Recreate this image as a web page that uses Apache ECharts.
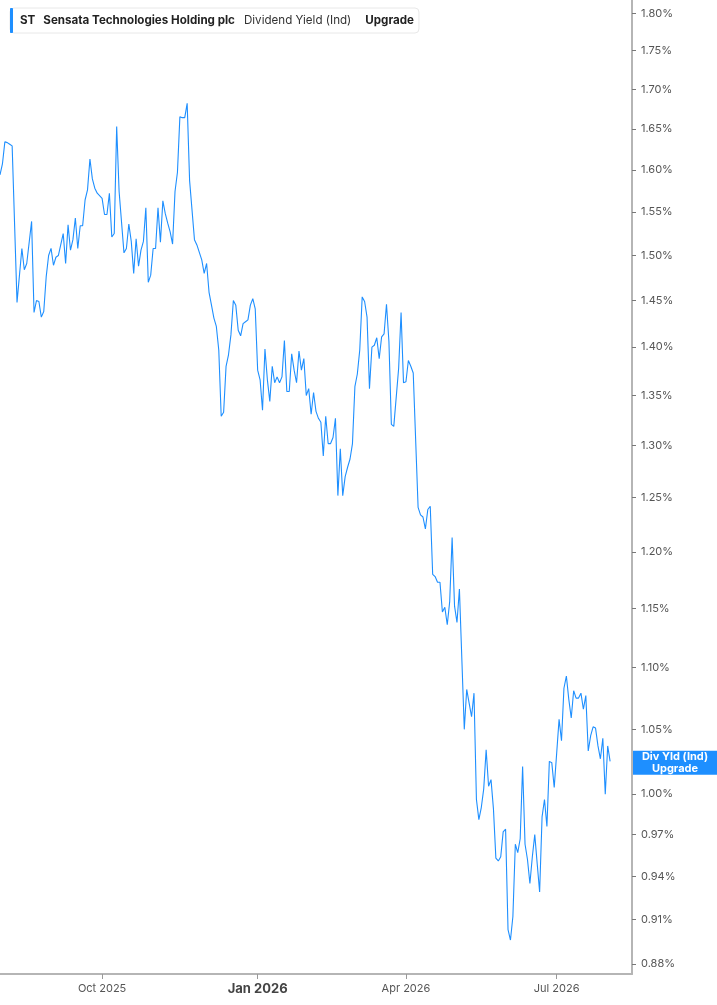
<!DOCTYPE html>
<html>
<head>
<meta charset="utf-8">
<title>ST Dividend Yield</title>
<script src="https://cdn.jsdelivr.net/npm/echarts@6.0.0/dist/echarts.min.js"></script>
<style>
  html, body { margin: 0; padding: 0; background: #fff; }
  #chart { width: 717px; height: 1005px; }
</style>
</head>
<body>
<div id="chart"></div>
<script>
const startDate = '2025-08-01';
const endDate = '2026-08-14';
const holidays = [
  '2025-09-01', '2025-11-27', '2025-12-25', '2026-01-01', '2026-01-19',
  '2026-02-16', '2026-04-03', '2026-05-25', '2026-06-19', '2026-07-03'
];

// daily dividend yield (%), one per trading day from startDate; null where the line runs straight
const yieldValues = [
  1.594, 1.607, 1.634, 1.633, 1.631, 1.629, null, 1.448, null, 1.508,
  1.484, 1.491, null, 1.539, 1.437, 1.450, 1.449, 1.432, 1.438, 1.476,
  1.500, 1.508, 1.489, 1.498, 1.500, null, 1.525, 1.491, 1.535, 1.506,
  1.518, 1.543, 1.508, 1.534, 1.534, 1.564, 1.576, 1.613, 1.589, 1.578,
  1.572, null, 1.566, 1.547, 1.547, 1.572, 1.521, 1.525, 1.653, 1.574,
  null, 1.503, 1.508, 1.536, 1.516, 1.480, 1.519, 1.488, 1.506, 1.516,
  1.555, 1.470, 1.478, 1.508, 1.508, 1.555, 1.515, 1.563, 1.548, 1.537,
  1.527, 1.513, 1.574, 1.597, 1.665, 1.664, 1.664, 1.682, 1.587, null,
  1.518, 1.512, null, 1.495, 1.480, 1.491, 1.459, 1.445, 1.431, 1.422,
  1.397, 1.329, 1.333, 1.380, 1.392, 1.413, 1.450, 1.445, 1.418, 1.412,
  1.425, 1.427, 1.429, 1.445, 1.452, 1.441, 1.376, 1.366, 1.335, 1.398,
  1.366, 1.344, 1.380, 1.363, 1.369, 1.363, 1.369, 1.407, 1.354, 1.354,
  1.393, 1.376, 1.363, 1.396, 1.376, 1.388, 1.350, 1.357, 1.331, 1.353,
  1.334, 1.327, 1.323, 1.290, 1.329, 1.302, 1.302, 1.308, 1.327, 1.252,
  1.297, 1.252, 1.270, 1.279, 1.287, 1.302, 1.359, 1.372, 1.397, 1.454,
  1.449, 1.432, 1.357, 1.400, 1.402, 1.410, 1.388, 1.411, 1.414, 1.446,
  1.406, 1.321, 1.319, null, 1.378, 1.437, 1.363, 1.364, 1.386, 1.380,
  1.373, null, 1.241, 1.234, 1.232, 1.221, 1.239, 1.242, 1.180, 1.178,
  1.173, 1.173, 1.147, 1.151, 1.136, 1.156, 1.213, 1.152, 1.138, 1.167,
  null, 1.050, 1.082, 1.071, 1.060, 1.079, 0.996, 0.981, 0.990, 1.004,
  1.034, 1.006, 1.011, 0.989, 0.953, 0.951, 0.954, 0.972, 0.974, 0.903,
  0.896, 0.912, 0.963, 0.957, 0.967, 1.021, 0.963, 0.952, 0.935, 0.954,
  0.970, 0.949, 0.929, 0.983, 0.996, 0.976, 1.025, 1.024, 1.005, 1.031,
  1.058, 1.041, 1.083, 1.093, 1.074, 1.059, 1.081, 1.075, 1.075, 1.079,
  1.066, 1.077, 1.033, 1.045, 1.052, 1.051, 1.037, 1.027, 1.043, 1.000,
  1.037, 1.025
];

const yTicks = [0.88, 0.91, 0.94, 0.97, 1.00, 1.05, 1.10, 1.15, 1.20, 1.25, 1.30,
  1.35, 1.40, 1.45, 1.50, 1.55, 1.60, 1.65, 1.70, 1.75, 1.80];
const quarterMonths = [0, 3, 6, 9];
const monthNames = ['Jan', 'Feb', 'Mar', 'Apr', 'May', 'Jun', 'Jul', 'Aug', 'Sep', 'Oct', 'Nov', 'Dec'];

function tradingDays(from, to, skip) {
  const days = [];
  const d = new Date(from + 'T00:00:00Z');
  const last = new Date(to + 'T00:00:00Z');
  while (d <= last) {
    const wd = d.getUTCDay();
    const iso = d.toISOString().slice(0, 10);
    if (wd !== 0 && wd !== 6 && skip.indexOf(iso) < 0) days.push(iso);
    d.setUTCDate(d.getUTCDate() + 1);
  }
  return days;
}

const dates = tradingDays(startDate, endDate, holidays);

// first trading day of Jan / Apr / Jul / Oct
const quarterStarts = {};
dates.forEach((d, i) => {
  const m = +d.slice(5, 7) - 1;
  if (i > 0 && dates[i - 1].slice(5, 7) !== d.slice(5, 7) && quarterMonths.indexOf(m) >= 0) {
    quarterStarts[i] = true;
  }
});
const isQuarterStart = index => !!quarterStarts[index];

const lastValue = yieldValues[yieldValues.length - 1];
const font = 'Inter, "Noto Sans", sans-serif';
const blue = '#1e8fff';

const chart = echarts.init(document.getElementById('chart'));

chart.setOption({
  animation: false,
  backgroundColor: '#fff',
  textStyle: { fontFamily: font },
  grid: { left: 0, right: 85, top: 0, bottom: 31 },
  legend: {
    left: 10,
    top: 8,
    padding: [0, 5, 0, 0],
    backgroundColor: '#fff',
    borderColor: '#e8e8e8',
    borderWidth: 1,
    borderRadius: 4,
    icon: 'roundRect',
    itemWidth: 3,
    itemHeight: 25,
    data: ['ST'],
    formatter: () => '{t|ST}{b|Sensata Technologies Holding plc}{n|Dividend Yield (Ind)}{b|Upgrade}',
    textStyle: {
      rich: {
        t: { fontFamily: font, fontWeight: 'bold', fontSize: 11.6, color: '#222', padding: [0, 8, 0, 2] },
        b: { fontFamily: font, fontWeight: 'bold', fontSize: 11.6, color: '#222' },
        n: { fontFamily: font, fontSize: 11.6, color: '#333', padding: [0, 14, 0, 9] }
      }
    }
  },
  xAxis: {
    type: 'category',
    data: dates,
    boundaryGap: false,
    axisLine: { lineStyle: { color: '#b5b5b5', width: 2 } },
    axisTick: { interval: isQuarterStart, length: 5, lineStyle: { color: '#999' } },
    axisLabel: {
      interval: isQuarterStart,
      margin: 9,
      color: '#555',
      fontSize: 11,
      formatter: value => {
        const m = +value.slice(5, 7) - 1;
        const txt = monthNames[m] + ' ' + value.slice(0, 4);
        return m === 0 ? '{yr|' + txt + '}' : txt;
      },
      rich: { yr: { fontFamily: font, fontWeight: 'bold', fontSize: 13, color: '#444' } }
    },
    splitLine: { show: false }
  },
  yAxis: {
    type: 'log',
    logBase: 10,
    position: 'right',
    min: 0.8734,
    max: 1.8181,
    axisLine: { show: true, lineStyle: { color: '#b5b5b5', width: 2 } },
    axisTick: { show: true, customValues: yTicks, length: 4, lineStyle: { color: '#777' } },
    axisLabel: {
      customValues: yTicks,
      margin: 9,
      color: '#555',
      fontSize: 11,
      formatter: v => v.toFixed(2) + '%'
    },
    splitLine: { show: false }
  },
  series: [{
    name: 'ST',
    type: 'line',
    data: yieldValues,
    connectNulls: true,
    showSymbol: false,
    color: blue,
    lineStyle: { width: 1.1, color: blue },
    markLine: {
      silent: true,
      symbol: 'none',
      lineStyle: { color: 'rgba(0,0,0,0)', width: 0, opacity: 1 },
      label: {
        position: 'end',
        distance: 1,
        offset: [0, -5],
        opacity: 1,
        backgroundColor: blue,
        padding: 0,
        formatter: '{a|Div Yld (Ind)}\n{a|Upgrade}',
        rich: {
          a: { fontFamily: font, width: 84, align: 'center', lineHeight: 12, fontSize: 11, fontWeight: 'bold', color: '#fff' }
        }
      },
      data: [{ yAxis: lastValue }]
    }
  }]
});
</script>
</body>
</html>
